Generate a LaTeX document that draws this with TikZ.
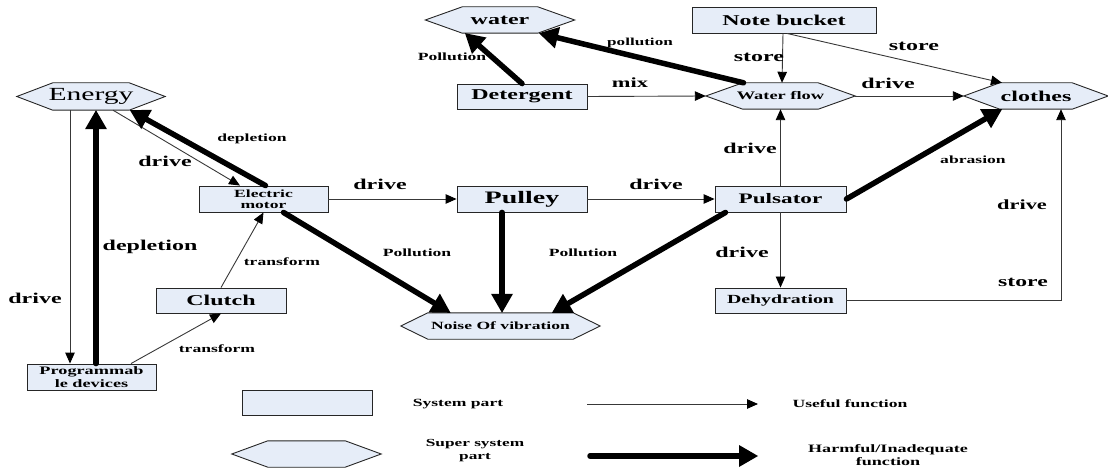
\documentclass[tikz,border=0pt]{standalone}
\usepackage{fontspec}
\setmainfont{Liberation Serif}[FakeStretch=1.6]
\usetikzlibrary{arrows.meta,backgrounds}
\definecolor{boxfill}{RGB}{230,237,248}
\newcommand\fsz[1]{\fontsize{#1}{#1}\selectfont}
% hexagonal outline behind a super-system node: #1 node, #2 tip length (pt)
\newcommand\hexat[2]{%
  \draw[hexline] (#1.west) -- ([xshift=#2pt]#1.north west) -- ([xshift=-#2pt]#1.north east)
    -- (#1.east) -- ([xshift=-#2pt]#1.south east) -- ([xshift=#2pt]#1.south west) -- cycle;}
\begin{document}
\begin{tikzpicture}[x=1pt,y=-1pt,
  part/.style={rectangle, draw=black!85, line width=0.9pt, fill=boxfill, inner sep=0pt,
    minimum width=130pt, minimum height=26pt, align=center, font=\bfseries\fsz{15}},
  super/.style={rectangle, inner sep=0pt, minimum height=26pt, align=center, font=\bfseries\fsz{15}},
  hexline/.style={draw=black!85, line width=0.9pt, fill=boxfill},
  useful/.style={draw=black!78, line width=0.9pt,
    -{Triangle[length=11pt,width=9.5pt,color=black]}},
  harmful/.style={draw=black, line width=5.5pt, line cap=round,
    -{Triangle[length=19pt,width=22pt,line width=0pt]}},
  lbl/.style={inner sep=0pt, font=\bfseries\fsz{15}},
  small/.style={inner sep=0pt, font=\bfseries\fsz{11}, align=center}]
\useasboundingbox (0,0) rectangle (1108,470);

% super-system elements (hexagons)
\node[super, minimum width=148pt, minimum height=27pt, font=\fsz{18.5}] (energy) at (91,96.5) {Energy};
\node[super, minimum width=149pt] (water) at (500,20) {water};
\node[super, minimum width=149pt, font=\bfseries\fsz{11.5}] (waterflow) at (780.5,96) {Water flow};
\node[super, minimum width=144pt] (clothes) at (1036,96) {clothes};
\node[super, minimum width=199pt, font=\bfseries\fsz{11}] (noise) at (500.5,326) {Noise Of vibration};
\node[super, minimum width=149pt] (leghex) at (306.5,454) {};

% system parts (boxes)
\node[part, minimum width=184pt] (notebucket) at (784,20) {Note bucket};
\node[part, minimum height=25pt] (detergent) at (522,96.5) {Detergent};
\node[part, minimum width=129pt, font=\bfseries\fontsize{11}{10.5}\selectfont] (motor) at (263.5,199) {Electric\\motor};
\node[part, font=\bfseries\fsz{17.5}] (pulley) at (522,199) {Pulley};
\node[part, minimum width=131pt, font=\bfseries\fsz{14.5}] (pulsator) at (780.5,199) {Pulsator};
\node[part, minimum height=25pt] (clutch) at (221,300.5) {Clutch};
\node[part, minimum width=129pt, font=\bfseries\fontsize{11.4}{13}\selectfont] (devices) at (91.5,377) {Programmab\\le devices};
\node[part, minimum width=131pt, minimum height=25pt, font=\bfseries\fsz{12.4}] (dehyd) at (780.5,300.5) {Dehydration};
\node[part, minimum height=25pt] (legrect) at (307,402.5) {};

\begin{scope}[on background layer]
  \hexat{energy}{36}
  \hexat{water}{37}
  \hexat{waterflow}{37}
  \hexat{clothes}{36}
  \hexat{noise}{27}
  \hexat{leghex}{36}
\end{scope}

% useful functions
\draw[useful] ([xshift=22pt]energy.south) -- ([xshift=-23.5pt]motor.north);
\draw[useful] ([xshift=-21pt]energy.south) -- ([xshift=-21.5pt]devices.north);
\draw[useful] ([xshift=39.5pt]devices.north) -- (clutch.south);
\draw[useful] (clutch.north) -- (motor.south);
\draw[useful] (motor.east) -- (pulley.west);
\draw[useful] (pulley.east) -- (pulsator.west);
\draw[useful] (pulsator.north) -- (waterflow.south);
\draw[useful] (pulsator.south) -- (dehyd.north);
\draw[useful] (dehyd.east) -| ([xshift=25pt]clothes.south);
\draw[useful] (detergent.east) -- (waterflow.west);
\draw[useful] ([xshift=-1pt]notebucket.south) -- ([xshift=1.5pt]waterflow.north);
\draw[useful] ([xshift=3pt]notebucket.south) -- ([xshift=-34pt]clothes.north);
\draw[useful] (waterflow.east) -- (clothes.west);

% harmful functions
\draw[harmful] ([xshift=2pt]motor.north) -- ([xshift=39pt]energy.south);
\draw[harmful] ([xshift=4.5pt]devices.north) -- ([xshift=5pt]energy.south);
\draw[harmful] ([xshift=20pt]motor.south) -- ([xshift=-50pt]noise.north);
\draw[harmful] ([xshift=-20pt]pulley.south) -- ([xshift=1.5pt]noise.north);
\draw[harmful] ([xshift=-55pt]pulsator.south) -- ([xshift=51.5pt]noise.north);
\draw[harmful] (pulsator.east) -- ([xshift=-34pt]clothes.south);
\draw[harmful] (detergent.north) -- ([xshift=-35pt]water.south);
\draw[harmful] ([xshift=-37pt]waterflow.north) -- ([xshift=39pt]water.south);

% function labels
\node[lbl] (l1) at (165,161) {drive};
\node[small] (l2) at (252,139) {depletion};
\node[lbl] (l3) at (35,298) {drive};
\node[lbl] (l4) at (150,247) {depletion};
\node[small] (l5) at (217,349) {transform};
\node[small] (l6) at (282,262) {transform};
\node[small] (l7) at (417,253) {Pollution};
\node[small] (l8) at (583,253) {Pollution};
\node[lbl] (l9) at (380,184) {drive};
\node[lbl] (l10) at (656,184) {drive};
\node[lbl] (l11) at (750,148) {drive};
\node[small] (l12) at (973,160) {abrasion};
\node[lbl] (l13) at (742,252) {drive};
\node[lbl, font=\bfseries\fsz{14}] (l14) at (1022,205) {drive};
\node[lbl, font=\bfseries\fsz{14.8}] (l15) at (1023,282) {store};
\node[small] (l16) at (452,57) {Pollution};
\node[small, font=\bfseries\fsz{10.7}] (l17) at (640,43) {pollution};
\node[lbl, font=\bfseries\fsz{14}] (l18) at (630,83) {mix};
\node[lbl] (l19) at (759,57) {store};
\node[lbl] (l20) at (914,46) {store};
\node[lbl] (l21) at (888,83) {drive};

% legend
\coordinate (u1) at (587,404);
\coordinate (u2) at (758,404);
\coordinate (h1) at (590,456);
\coordinate (h2) at (758,456);
\draw[useful] (u1) -- (u2);
\draw[harmful] (h1) -- (h2);
\node[small] (t1) at (458,404) {System part};
\node[small, font=\bfseries\fontsize{10.8}{13}\selectfont] (t2) at (475,451) {Super system\\part};
\node[small] (t3) at (850,404) {Useful function};
\node[small, font=\bfseries\fontsize{11.3}{12.5}\selectfont] (t4) at (888,455) {Harmful/Inadequate\\function};
\end{tikzpicture}
\end{document}
